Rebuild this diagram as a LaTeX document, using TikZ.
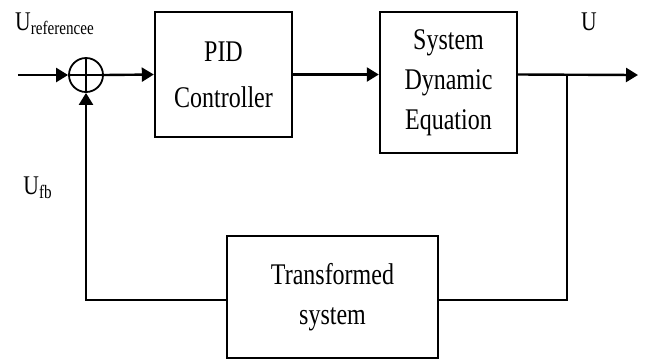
\documentclass[tikz,border=0pt]{standalone}
\usepackage{fontspec}
\setmainfont{Liberation Serif}[FakeStretch=0.8]
\usetikzlibrary{arrows.meta}

\begin{document}
\begin{tikzpicture}[x=0.5pt, y=-0.5pt, >={Triangle[length=6pt,width=7pt]},
  font=\fontsize{15}{20}\selectfont,
  blk/.style={draw, line width=1.2pt, align=center, inner sep=0pt},
  sig/.style={line width=1.2pt},
  lab/.style={font=\fontsize{13.5}{16}\selectfont, inner sep=0pt}]
\useasboundingbox (0,0) rectangle (650,361);
% blocks
\node[blk, minimum width=68.5pt, minimum height=62.5pt] (pid) at (223.5,74.5) {PID\\[3pt]Controller};
\node[blk, minimum width=68.5pt, minimum height=70.5pt] (sys) at (448.5,82.5) {System\\Dynamic\\Equation};
\node[blk, minimum width=105.5pt, minimum height=61pt] (tr) at (332.5,297) {Transformed\\system};
\node[draw, circle, line width=0.9pt, minimum size=17pt, inner sep=0pt] (sum) at (86,75) {};
\draw[line width=0.9pt] (sum.north) -- (sum.south) (sum.west) -- (sum.east);
% labels
\node[lab] (uref) at (55,24) {U\textsubscript{referencee}};
\node[lab] (ufb) at (38,188) {U\textsubscript{fb}};
\node[lab] (uout) at (589,22) {U};
% signals
\coordinate (in) at (18,75);
\coordinate (out) at (638,75);
\coordinate (br) at (567,75);
\coordinate (fbr) at ([yshift=-1.5pt]tr.east);
\coordinate (fbl) at ([yshift=-1.5pt]tr.west);
\draw[sig,->] (in) -- (sum.west);
\draw[sig,->] (sum.east) -- (pid.west);
\draw[sig,->] (pid.east) -- (pid.east -| sys.west);
\draw[sig,->] (pid.east -| sys.east) -- (out);
\draw[sig] (br) |- (fbr);
\draw[sig,->] (fbl) -| (sum.south);
\end{tikzpicture}
\end{document}
